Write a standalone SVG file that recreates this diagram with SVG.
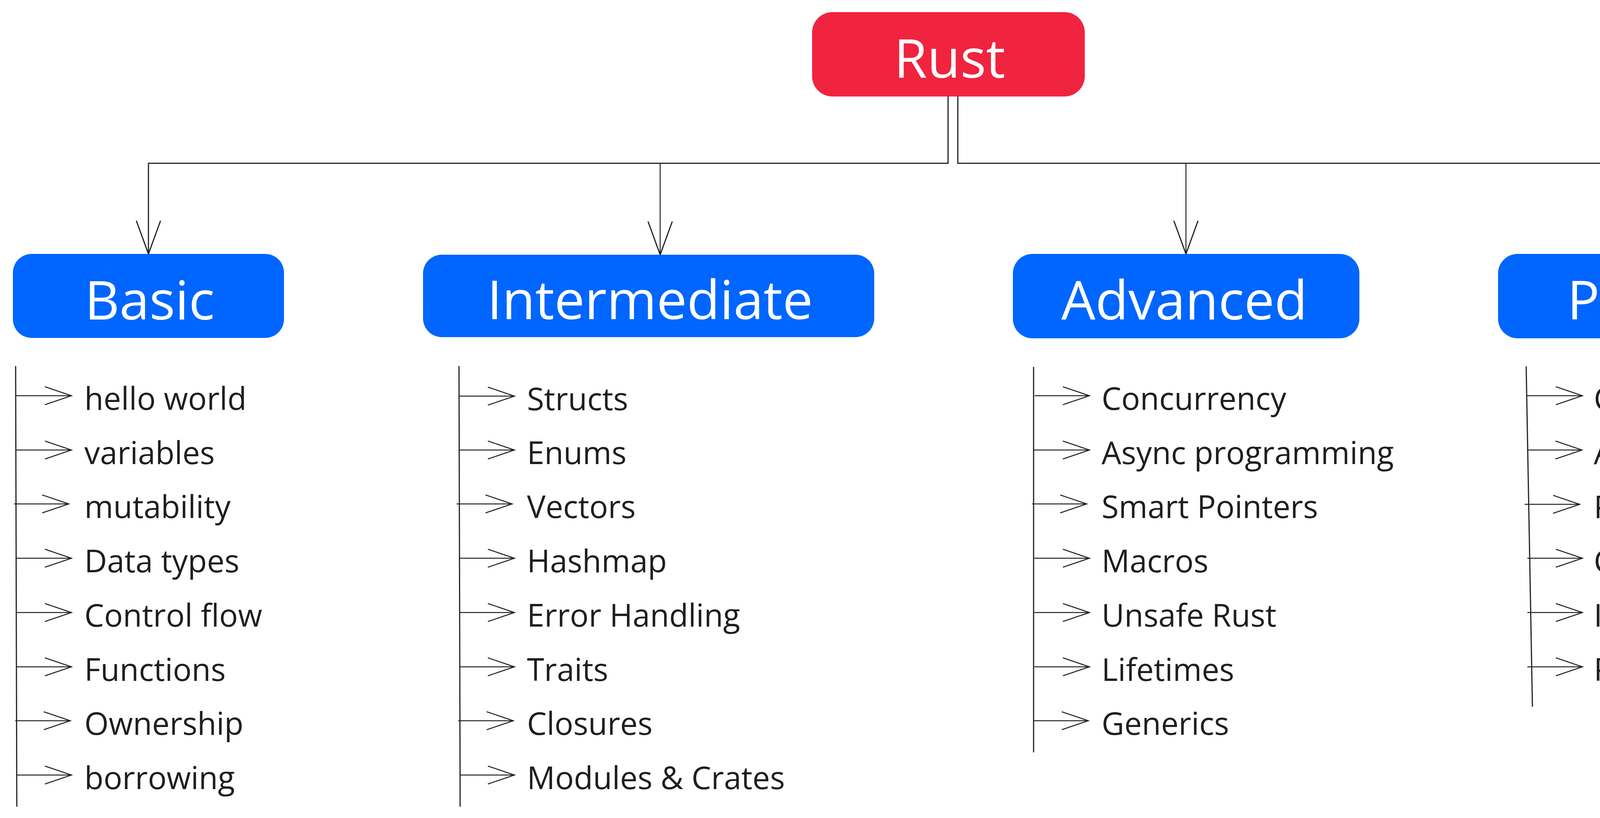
<svg xmlns="http://www.w3.org/2000/svg" width="5176" height="2094" viewBox="0 0 5176 2094">
  <style>
    .root { fill: #F0243F; }
    .cat { fill: #0066FF; }
    .hdr { font-family: "Open Sans", "Noto Sans", "Liberation Sans", sans-serif; font-size: 138px; fill: #FFFFFF; text-anchor: middle; }
    .item { font-family: "Open Sans", "Noto Sans", "Liberation Sans", sans-serif; font-size: 80px; fill: #1E1E1E; }
    .conn { fill: none; stroke: #222222; stroke-width: 3; }
    .conn2 { fill: none; stroke: #222222; stroke-width: 2.5; }
    .spine { fill: none; stroke: #222222; stroke-width: 3; }
  </style>
  <defs>
    <marker id="bigArrow" markerUnits="userSpaceOnUse" viewBox="-90 -36 94 72" markerWidth="94" markerHeight="72" refX="0" refY="0" orient="auto" overflow="visible">
      <path d="M-85,-31 L0,0 L-85,31" fill="none" stroke="#222222" stroke-width="3"/>
    </marker>
    <marker id="smallArrow" markerUnits="userSpaceOnUse" viewBox="-72 -28 76 56" markerWidth="76" markerHeight="56" refX="0" refY="0" orient="auto" overflow="visible">
      <path d="M-68,-23 L0,0 L-68,23" fill="none" stroke="#222222" stroke-width="2.5"/>
    </marker>
  </defs>
  <rect width="5176" height="2094" fill="#FFFFFF"/>

  <g id="connectors">
    <path class="conn" d="M2427,247 V418 H380 V650" marker-end="url(#bigArrow)"/>
    <path class="conn2" d="M1690,418 V652" marker-end="url(#bigArrow)"/>
    <path class="conn" d="M2452,247 V418 H4266 V650" marker-end="url(#bigArrow)"/>
    <path class="conn2" d="M3036,418 V650" marker-end="url(#bigArrow)"/>
  </g>

  <g id="node-rust">
    <rect class="root" x="2079" y="31" width="698" height="216" rx="52" ry="52"/>
    <text class="hdr" x="2431" y="199">Rust</text>
  </g>

  <g id="node-basic">
    <rect class="cat" x="33" y="650" width="694" height="215" rx="48" ry="48"/>
    <text class="hdr" x="383" y="818">Basic</text>
  </g>

  <g id="node-intermediate">
    <rect class="cat" x="1083" y="652" width="1155" height="211" rx="48" ry="48"/>
    <text class="hdr" x="1664" y="817">Intermediate</text>
  </g>

  <g id="node-advanced">
    <rect class="cat" x="2593" y="650" width="887" height="216" rx="50" ry="50"/>
    <text class="hdr" x="3032" y="818">Advanced</text>
  </g>

  <g id="node-projects">
    <rect class="cat" x="3835" y="650" width="864" height="216" rx="50" ry="50"/>
    <text class="hdr" x="4270" y="818">Projects</text>
  </g>

  <g id="list-basic">
    <path class="spine" d="M40,937 L43,2065"/>
    <g class="conn2">
      <path d="M40,1013 H183" marker-end="url(#smallArrow)"/>
      <path d="M40,1152 H183" marker-end="url(#smallArrow)"/>
      <path d="M36,1290 H176" marker-end="url(#smallArrow)"/>
      <path d="M41,1429 H183" marker-end="url(#smallArrow)"/>
      <path d="M42,1568 H183" marker-end="url(#smallArrow)"/>
      <path d="M43,1707 H183" marker-end="url(#smallArrow)"/>
      <path d="M39,1845 H180" marker-end="url(#smallArrow)"/>
      <path d="M43,1984 H183" marker-end="url(#smallArrow)"/>
    </g>
    <text class="item" x="216" y="1049">hello world</text>
    <text class="item" x="216" y="1188">variables</text>
    <text class="item" x="216" y="1326">mutability</text>
    <text class="item" x="216" y="1465">Data types</text>
    <text class="item" x="216" y="1604">Control flow</text>
    <text class="item" x="216" y="1743">Functions</text>
    <text class="item" x="216" y="1881">Ownership</text>
    <text class="item" x="216" y="2020">borrowing</text>
  </g>

  <g id="list-intermediate">
    <path class="spine" d="M1175,937 L1178,2065"/>
    <g class="conn2">
      <path d="M1176,1014 H1317" marker-end="url(#smallArrow)"/>
      <path d="M1176,1152 H1317" marker-end="url(#smallArrow)"/>
      <path d="M1169,1290 H1311" marker-end="url(#smallArrow)"/>
      <path d="M1176,1429 H1317" marker-end="url(#smallArrow)"/>
      <path d="M1177,1568 H1317" marker-end="url(#smallArrow)"/>
      <path d="M1177,1707 H1317" marker-end="url(#smallArrow)"/>
      <path d="M1173,1845 H1314" marker-end="url(#smallArrow)"/>
      <path d="M1178,1984 H1317" marker-end="url(#smallArrow)"/>
    </g>
    <text class="item" x="1349" y="1050">Structs</text>
    <text class="item" x="1349" y="1188">Enums</text>
    <text class="item" x="1349" y="1326">Vectors</text>
    <text class="item" x="1349" y="1465">Hashmap</text>
    <text class="item" x="1349" y="1604">Error Handling</text>
    <text class="item" x="1349" y="1743">Traits</text>
    <text class="item" x="1349" y="1881">Closures</text>
    <text class="item" x="1349" y="2020">Modules &amp; Crates</text>
  </g>

  <g id="list-advanced">
    <path class="spine" d="M2646,939 L2646,1926"/>
    <g class="conn2">
      <path d="M2649,1013 H2789" marker-end="url(#smallArrow)"/>
      <path d="M2647,1152 H2789" marker-end="url(#smallArrow)"/>
      <path d="M2642,1290 H2782" marker-end="url(#smallArrow)"/>
      <path d="M2648,1429 H2789" marker-end="url(#smallArrow)"/>
      <path d="M2648,1568 H2789" marker-end="url(#smallArrow)"/>
      <path d="M2648,1707 H2789" marker-end="url(#smallArrow)"/>
      <path d="M2647,1845 H2786" marker-end="url(#smallArrow)"/>
    </g>
    <text class="item" x="2820" y="1049">Concurrency</text>
    <text class="item" x="2820" y="1188">Async programming</text>
    <text class="item" x="2820" y="1326">Smart Pointers</text>
    <text class="item" x="2820" y="1465">Macros</text>
    <text class="item" x="2820" y="1604">Unsafe Rust</text>
    <text class="item" x="2820" y="1743">Lifetimes</text>
    <text class="item" x="2820" y="1881">Generics</text>
  </g>

  <g id="list-projects">
    <path class="spine" d="M3907,938 L3923,1809"/>
    <g class="conn2">
      <path d="M3909,1013 H4051" marker-end="url(#smallArrow)"/>
      <path d="M3909,1152 H4050" marker-end="url(#smallArrow)"/>
      <path d="M3903,1291 H4044" marker-end="url(#smallArrow)"/>
      <path d="M3910,1429 H4051" marker-end="url(#smallArrow)"/>
      <path d="M3910,1568 H4051" marker-end="url(#smallArrow)"/>
      <path d="M3910,1707 H4051" marker-end="url(#smallArrow)"/>
    </g>
    <text class="item" x="4080" y="1049">Command-line tools</text>
    <text class="item" x="4080" y="1188">Advanced CLI tools</text>
    <text class="item" x="4080" y="1327">Package Building</text>
    <text class="item" x="4080" y="1465">Cross-platform development</text>
    <text class="item" x="4080" y="1604">Integration</text>
    <text class="item" x="4080" y="1743">Plugins</text>
  </g>
</svg>
